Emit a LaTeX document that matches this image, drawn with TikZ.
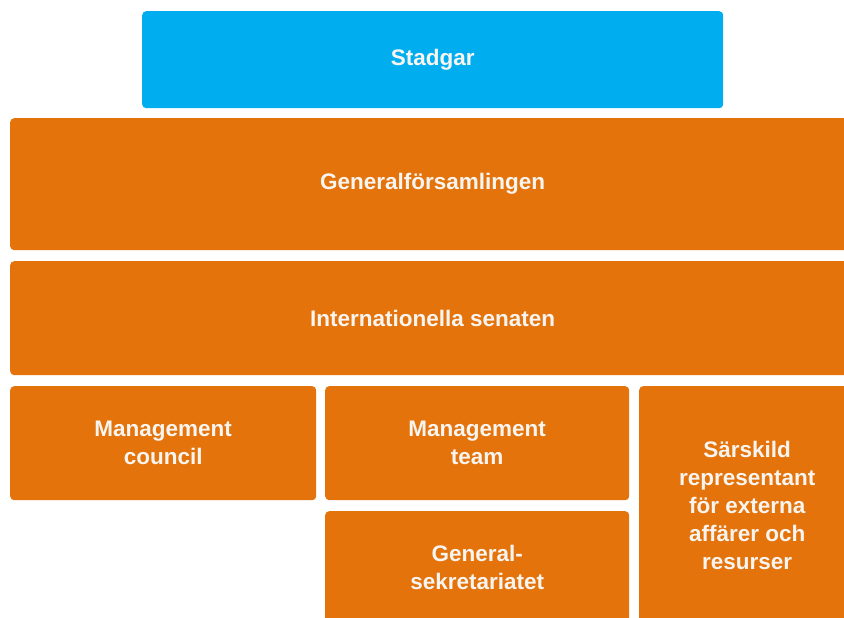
\documentclass[tikz,border=0pt]{standalone}
\usepackage{fontspec}
\setmainfont{Liberation Sans}
\usepackage{xcolor}
\usepackage{tikz}
\usetikzlibrary{positioning}

\definecolor{orgorange}{HTML}{E3730A}
\definecolor{orgblue}{HTML}{00AEEF}
\definecolor{orgtext}{HTML}{F8F4F0}

\tikzset{
    orgbox/.style={fill=orgorange, rounded corners=4pt, inner sep=0pt, anchor=north west,
        text=orgtext, font=\fontsize{22.5}{28}\selectfont\bfseries, align=center},
    topbox/.style={orgbox, fill=orgblue}
}

\begin{document}
\begin{tikzpicture}[x=1pt,y=-1pt]
        \clip (0,0) rectangle (844,618);
        \fill[white] (0,0) rectangle (844,618);

        % Stadgar on top
        \node[topbox, minimum width=581pt, minimum height=97pt] (stadgar) at (142,11) {Stadgar};

        % assembly and senate
        \node[orgbox, minimum width=845pt, minimum height=132pt] (assembly) at (10,118) {Generalförsamlingen};
        \node[orgbox, minimum width=845pt, minimum height=114pt] (senate) at (10,261) {Internationella senaten};

        % lower row
        \node[orgbox, minimum width=306pt, minimum height=114pt] (council) at (10,386) {Management\\council};
        \node[orgbox, minimum width=304pt, minimum height=114pt] (team) at (325,386) {Management\\team};
        \node[orgbox, minimum width=304pt, minimum height=113pt] (secretariat) at (325,511) {General-\\sekretariatet};
        \node[orgbox, minimum width=216pt, minimum height=238pt] (special) at (639,386)
            {Särskild\\representant\\för externa\\affärer och\\resurser};
    \end{tikzpicture}
\end{document}
